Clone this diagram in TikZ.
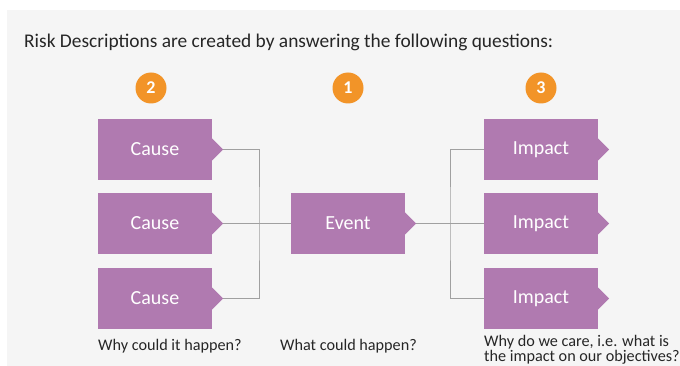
\documentclass[tikz,border=0pt]{standalone}
\usepackage{fontspec}
\setmainfont{Carlito}
\usetikzlibrary{positioning, backgrounds, calc}
\definecolor{riskbox}{RGB}{176,122,176}
\definecolor{stepcol}{RGB}{242,148,40}
\definecolor{link}{RGB}{160,160,160}
\definecolor{panel}{RGB}{245,245,245}

\begin{document}
\begin{tikzpicture}[
  x=1pt, y=-1pt,
  part/.style={fill=riskbox, minimum width=114pt, minimum height=61pt,
               inner sep=0pt, font=\fontsize{20}{22}\selectfont, text=white},
  num/.style={circle, fill=stepcol, minimum size=31pt, inner sep=0pt,
              font=\fontsize{18}{20}\selectfont\bfseries, text=white},
  quest/.style={anchor=base west, inner sep=0pt, font=\fontsize{16.2}{11.8}\selectfont,
                align=left, text=black!85},
  wire/.style={draw=link, line width=0.9pt}
]
\useasboundingbox (0,0) rectangle (680,366);

\node[anchor=base west, inner sep=0pt, font=\fontsize{19.4}{21}\selectfont, text=black!85]
  (title) at (24,47.5) {Risk Descriptions are created by answering the following questions:};

\node[num] (n2) at (151,88)  {2};
\node[num] (n1) at (348,88)  {1};
\node[num] (n3) at (541,88)  {3};

\node[part] (cause1) at (155,149.5) {Cause};
\node[part] (cause2) at (155,223.5) {Cause};
\node[part] (cause3) at (155,298.5) {Cause};
\node[part] (event)  at (348,223.5) {Event};
\node[part] (imp1)   at (541,149.5) {Impact};
\node[part] (imp2)   at (541,223.5) {Impact};
\node[part] (imp3)   at (541,298.5) {Impact};

% small pointer on the right side of every box
\foreach \b in {cause1,cause2,cause3,event,imp1,imp2,imp3}
  \fill[riskbox] ($(\b.east)+(0,-11)$) -- ($(\b.east)+(11,0)$) -- ($(\b.east)+(0,11)$) -- cycle;

\coordinate (jleft)  at (259,223.5);
\coordinate (jright) at (450,223.5);

\begin{scope}[on background layer]
  \fill[white] (0,0) rectangle (680,366);
  \fill[panel] (7,10) rectangle (680,366);
  \draw[wire] (cause1.east) -| (jleft) |- (cause3.east);
  \draw[wire] (cause2.east) -- (event.west);
  \draw[wire] (event.east) -- (imp2.west);
  \draw[wire] (imp1.west) -| (jright) |- (imp3.west);
\end{scope}

\node[quest] (q1) at (98,350)  {Why could it happen?};
\node[quest] (q2) at (280,350) {What could happen?};
\node[quest] (q3) at (484,361.5) {Why do we care, i.e. what is\\the impact on our objectives?};

\end{tikzpicture}
\end{document}
